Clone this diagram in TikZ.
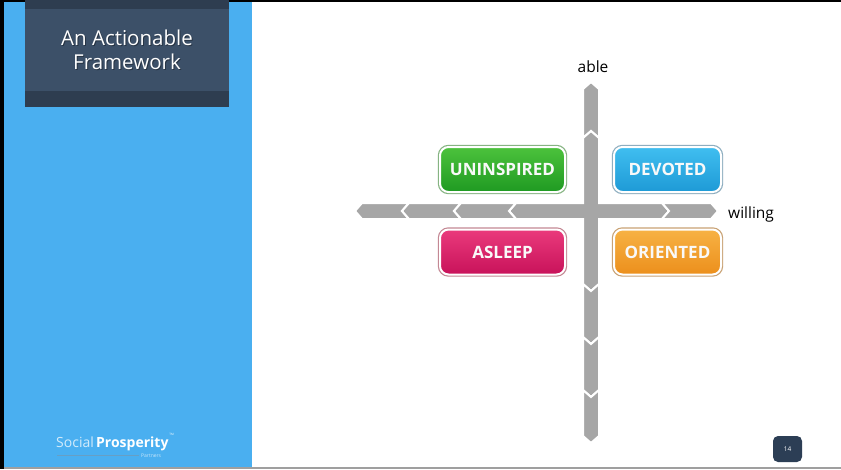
\documentclass[tikz,border=0pt]{standalone}
\usepackage{fontspec}
\setmainfont{Open Sans}
\definecolor{panelblue}{HTML}{4AAFF0}
\definecolor{titlemain}{HTML}{3C5068}
\definecolor{titledark}{HTML}{2E3D50}
\definecolor{arrowgray}{HTML}{A6A6A6}
\definecolor{gtop}{HTML}{4CC23C}\definecolor{gbot}{HTML}{1F9A22}\definecolor{gbor}{HTML}{86B482}
\definecolor{ptop}{HTML}{EA3A7C}\definecolor{pbot}{HTML}{C8125A}\definecolor{pbor}{HTML}{C48894}
\definecolor{btop}{HTML}{40BEF0}\definecolor{bbot}{HTML}{1E9AD6}\definecolor{bbor}{HTML}{8EAEC0}
\definecolor{otop}{HTML}{F7B244}\definecolor{obot}{HTML}{EC8F1C}\definecolor{obor}{HTML}{C9A274}
\definecolor{pagenum}{HTML}{2C3E55}
\tikzset{
  piece/.style={fill=arrowgray, draw=white, line width=2pt, line join=miter},
  quad/.style={rounded corners=8.5pt, minimum width=125pt, minimum height=45pt, inner sep=0pt,
    draw=white, line width=2pt, text=white!95!gray,
    font=\fontsize{17}{20}\selectfont\bfseries},
  axislabel/.style={font=\fontsize{15.5}{18}\selectfont, text=black, inner sep=0pt},
  titletext/.style={align=center, font=\fontsize{20.5}{24}\selectfont, anchor=base, inner sep=0pt}
}
\begin{document}
\begin{tikzpicture}[x=1pt,y=-1pt]
\useasboundingbox (0,0) rectangle (841,469);
% background
\fill[white] (0,0) rectangle (841,469);
\fill[panelblue] (4,0) rectangle (252,469);
\fill[black] (0,0) rectangle (4,469);
\fill[black] (0,0) rectangle (841,2);
\fill[gray!75] (4,467) rectangle (841,469);
% title box
\fill[titledark] (25,0) rectangle (229,107);
\fill[titlemain] (25,9) rectangle (229,91);
\node[titletext, text=black, opacity=0.35] (titleshadow) at (128,70) {An Actionable\\Framework};
\node[titletext, text=white] (title) at (127,69) {An Actionable\\Framework};
% axis pieces
\path[piece] (591,82) -- (599,89) -- (599,138) -- (591,131) -- (583,138) -- (583,89) -- cycle;
\path[piece] (591,131) -- (599,138) -- (599,203) -- (662,203) -- (669,211) -- (662,219) -- (599,219)
  -- (599,284) -- (591,291) -- (583,284) -- (583,219) -- (516,219) -- (509,211) -- (516,203)
  -- (583,203) -- (583,138) -- cycle;
\foreach \t/\s in {284/337, 337/390, 390/436}{
  \path[piece] (583,\t) -- (591,\t+7) -- (599,\t) -- (599,\s) -- (591,\s+7) -- (583,\s) -- cycle;
}
\foreach \a/\b in {355/409, 402/461, 454/516}{
  \path[piece] (\a,211) -- (\a+7,203) -- (\b,203) -- (\b-7,211) -- (\b,219) -- (\a+7,219) -- cycle;
}
\path[piece] (662,203) -- (711,203) -- (718,211) -- (711,219) -- (662,219) -- (669,211) -- cycle;
% labels
\node[axislabel, anchor=base] (able) at (593,72) {able};
\node[axislabel, anchor=base west] (willing) at (728,218) {willing};
% quadrants
\node[quad, minimum width=125pt, top color=gtop, bottom color=gbot, preaction={draw=gbor, line width=4.4pt}] (uninspired) at (502.5,169.5) {UNINSPIRED};
\node[quad, minimum width=125pt, top color=ptop, bottom color=pbot, preaction={draw=pbor, line width=4.4pt}] (asleep) at (502.5,252) {ASLEEP};
\node[quad, minimum width=107pt, top color=btop, bottom color=bbot, preaction={draw=bbor, line width=4.4pt}] (devoted) at (667.5,169.5) {DEVOTED};
\node[quad, minimum width=107pt, top color=otop, bottom color=obot, preaction={draw=obor, line width=4.4pt}] (oriented) at (667.5,252) {ORIENTED};
% logo
\node[anchor=base west, inner sep=0pt, font=\fontsize{14}{16}\selectfont] (logo) at (56,447)
  {\textcolor{white!75!panelblue}{Social}\,\textcolor{white}{\bfseries Prosperity}};
\node[anchor=south west, inner sep=0.5pt, font=\fontsize{3}{3}\selectfont, text=white] (tm) at (logo.north east) {TM};
\draw[white!30!panelblue!80!black, line width=0.9pt] (57,455.5) -- (139,455.5);
\node[anchor=west, inner sep=0pt, font=\fontsize{5}{5}\selectfont, text=white!70!panelblue] (partners) at (141,456) {Partners};
% page number
\node[fill=pagenum, rounded corners=5pt, minimum width=29pt, minimum height=26pt, inner sep=0pt,
  text=white, font=\fontsize{6.5}{7}\selectfont] (page) at (787.5,449) {14};
\end{tikzpicture}
\end{document}
